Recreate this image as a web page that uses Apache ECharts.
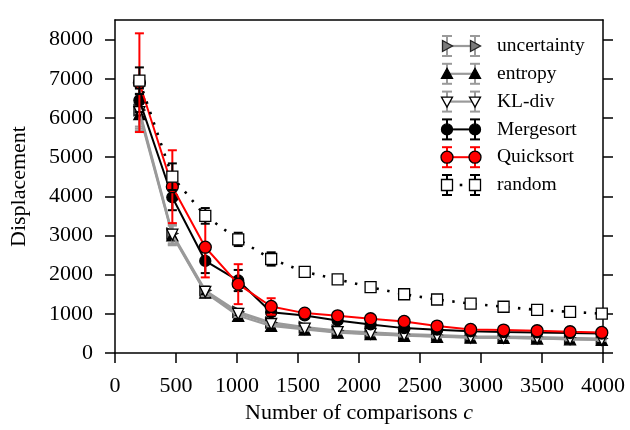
<!DOCTYPE html>
<html>
<head>
<meta charset="utf-8">
<script src="https://cdn.jsdelivr.net/npm/echarts@6/dist/echarts.min.js"></script>
<style>
  html, body { margin: 0; padding: 0; background: #fff; }
  #chart { width: 630px; height: 430px; }
</style>
</head>
<body>
<div id="chart"></div>
<script>
// x values (number of comparisons c)
const comparisons = [200, 470, 740, 1010, 1280, 1555, 1825, 2095, 2370, 2640, 2915, 3185, 3460, 3730, 3990];

// mean displacement per method
const uncertainty = [6200, 3050, 1600, 1050, 780, 660, 570, 525, 480, 455, 425, 420, 405, 385, 370];
const entropy     = [6100, 3000, 1540, 950, 690, 600, 520, 480, 440, 415, 390, 385, 370, 350, 335];
const klDiv       = [6150, 3020, 1560, 1000, 740, 620, 535, 490, 450, 425, 395, 390, 375, 355, 340];
const mergesort   = [6450, 3975, 2350, 1850, 1040, 960, 830, 730, 635, 595, 555, 535, 525, 510, 495];
const quicksort   = [6900, 4245, 2700, 1757, 1188, 1018, 950, 874, 806, 688, 602, 586, 568, 543, 525];
const random      = [6950, 4500, 3500, 2900, 2400, 2070, 1880, 1680, 1500, 1365, 1260, 1180, 1100, 1050, 1005];

// error bar half-heights
const uncertaintyErr = [420, 250, 110, 80, 60, 50, 40, 40, 30, 30, 30, 30, 30, 30, 30];
const entropyErr     = [420, 250, 110, 80, 60, 50, 40, 40, 30, 30, 30, 30, 30, 30, 30];
const klDivErr       = [420, 250, 110, 80, 60, 50, 40, 40, 30, 30, 30, 30, 30, 30, 30];
const mergesortErr   = [300, 330, 310, 270, 90, 60, 50, 40, 40, 30, 30, 30, 30, 30, 30];
const quicksortErr   = [1260, 930, 770, 510, 210, 80, 60, 50, 50, 40, 40, 40, 40, 30, 30];
const randomErr      = [340, 340, 200, 170, 170, 90, 70, 60, 50, 50, 40, 40, 40, 40, 30];

// tick labels
const xTicks = [0, 500, 1000, 1500, 2000, 2500, 3000, 3500, 4000];
const yTicks = [0, 1000, 2000, 3000, 4000, 5000, 6000, 7000, 8000];

const FONT = 'Liberation Serif';

//样式定义
const defs = [
  { name: 'uncertainty', data: uncertainty, err: uncertaintyErr, color: '#9a9a9a', width: 2.2, dash: 'solid',
    symbol: 'triangle', rotate: -90, shape: 'right', fill: '#7a7a7a', border: '#222', size: 11 },
  { name: 'entropy', data: entropy, err: entropyErr, color: '#9a9a9a', width: 2.2, dash: 'solid',
    symbol: 'triangle', rotate: 0, shape: 'up', fill: '#000', border: '#000', size: 11 },
  { name: 'KL-div', data: klDiv, err: klDivErr, color: '#9a9a9a', width: 2.2, dash: 'solid',
    symbol: 'triangle', rotate: 180, shape: 'down', fill: '#fff', border: '#000', size: 11 },
  { name: 'Mergesort', data: mergesort, err: mergesortErr, color: '#000', width: 2, dash: 'solid',
    symbol: 'circle', rotate: 0, shape: 'circle', fill: '#000', border: '#000', size: 11 },
  { name: 'Quicksort', data: quicksort, err: quicksortErr, color: '#ff0000', width: 2, dash: 'solid',
    symbol: 'circle', rotate: 0, shape: 'circle', fill: '#ff0000', border: '#000', size: 12 },
  { name: 'random', data: random, err: randomErr, color: '#000', width: 2.6, dash: [2.4, 8.6],
    symbol: 'rect', rotate: 0, shape: 'rect', fill: '#fff', border: '#000', size: 11 }
];

function errorBarItem(params, api) {
  const x = api.value(0), y = api.value(1), e = api.value(2);
  const top = api.coord([x, y + e]);
  const bot = api.coord([x, y - e]);
  const color = api.visual('color');
  const hw = 4.5;
  const st = { stroke: color, lineWidth: 2 };
  return {
    type: 'group',
    children: [
      { type: 'line', shape: { x1: top[0], y1: top[1], x2: bot[0], y2: bot[1] }, style: st },
      { type: 'line', shape: { x1: top[0] - hw, y1: top[1], x2: top[0] + hw, y2: top[1] }, style: st },
      { type: 'line', shape: { x1: bot[0] - hw, y1: bot[1], x2: bot[0] + hw, y2: bot[1] }, style: st }
    ]
  };
}

function markerShape(d, cx, cy) {
  const s = d.size / 2;
  const style = { fill: d.fill, stroke: d.border, lineWidth: 1.3 };
  if (d.shape === 'circle') return { type: 'circle', shape: { cx, cy, r: s }, style };
  if (d.shape === 'rect') return { type: 'rect', shape: { x: cx - s, y: cy - s, width: 2 * s, height: 2 * s }, style };
  let pts;
  if (d.shape === 'right') pts = [[cx - s + 1, cy - s], [cx + s, cy], [cx - s + 1, cy + s]];
  else if (d.shape === 'up') pts = [[cx - s, cy + s - 1], [cx, cy - s], [cx + s, cy + s - 1]];
  else pts = [[cx - s, cy - s + 1], [cx, cy + s], [cx + s, cy - s + 1]];
  return { type: 'polygon', shape: { points: pts }, style };
}

// 图例用graphic画（两端带误差棒和标记）
function buildLegend() {
  const items = [];
  const x1 = 447, x2 = 475, y0 = 46, step = 27.8, cap = 10, hw = 5;
  defs.forEach((d, i) => {
    const y = y0 + i * step;
    const ls = { stroke: d.color, lineWidth: 2 };
    const children = [];
    [x1, x2].forEach(x => {
      children.push({ type: 'line', shape: { x1: x, y1: y - cap, x2: x, y2: y + cap }, style: ls });
      children.push({ type: 'line', shape: { x1: x - hw, y1: y - cap, x2: x + hw, y2: y - cap }, style: ls });
      children.push({ type: 'line', shape: { x1: x - hw, y1: y + cap, x2: x + hw, y2: y + cap }, style: ls });
    });
    if (d.dash === 'solid') {
      children.push({ type: 'line', shape: { x1: x1, y1: y, x2: x2, y2: y }, style: { stroke: d.color, lineWidth: d.width } });
    } else {
      children.push({ type: 'rect', shape: { x: (x1 + x2) / 2 - 1.3, y: y - 1.3, width: 2.6, height: 2.6 }, style: { fill: '#000' } });
    }
    children.push(markerShape(d, x1, y));
    children.push(markerShape(d, x2, y));
    children.push({
      type: 'text', x: 497, y: y,
      style: { text: d.name, font: '19.5px "' + FONT + '"', fill: '#000', textVerticalAlign: 'middle', textAlign: 'left' }
    });
    items.push({ type: 'group', z: 100, children });
  });
  return items;
}

const series = [];
defs.forEach((d, i) => {
  series.push({
    type: 'custom',
    name: d.name + ' err',
    renderItem: errorBarItem,
    itemStyle: { color: d.color },
    data: comparisons.map((x, k) => [x, d.data[k], d.err[k]]),
    z: 2 + i * 2,
    silent: true,
    clip: false
  });
  series.push({
    type: 'line',
    name: d.name,
    data: comparisons.map((x, k) => [x, d.data[k]]),
    symbol: d.symbol,
    symbolSize: d.size,
    symbolRotate: d.rotate,
    showAllSymbol: true,
    lineStyle: { color: d.color, width: d.width, type: d.dash, cap: 'butt' },
    itemStyle: { color: d.fill, borderColor: d.border, borderWidth: 1.3 },
    z: 3 + i * 2,
    animation: false
  });
});

const axisLineStyle = { color: '#000', width: 1.5 };
const plain = v => String(v);

const option = {
  animation: false,
  grid: { left: 114, right: 27, top: 20, bottom: 77 },
  xAxis: [{
    type: 'value', min: 0, max: 4000, interval: 500,
    name: 'Number of comparisons {i|c}',
    nameLocation: 'middle', nameGap: 48,
    nameTextStyle: { fontFamily: FONT, fontSize: 22, color: '#000',
      rich: { i: { fontFamily: FONT, fontSize: 22, fontStyle: 'italic', color: '#000' } } },
    axisLine: { onZero: false, lineStyle: axisLineStyle },
    axisTick: { inside: false, length: 10, lineStyle: axisLineStyle, customValues: xTicks },
    axisLabel: { margin: 22, fontFamily: FONT, fontSize: 22, color: '#000', customValues: xTicks, formatter: plain },
    splitLine: { show: false }
  }, {
    type: 'value', position: 'top', min: 0, max: 4000,
    axisLine: { show: true, onZero: false, lineStyle: axisLineStyle },
    axisTick: { show: false }, axisLabel: { show: false }, splitLine: { show: false }
  }],
  yAxis: [{
    type: 'value', min: 0, max: 8500, interval: 1000,
    name: 'Displacement',
    nameLocation: 'middle', nameGap: 85, nameRotate: 90,
    nameTextStyle: { fontFamily: FONT, fontSize: 22, color: '#000' },
    axisLine: { show: true, onZero: false, lineStyle: axisLineStyle },
    axisTick: { show: true, inside: false, length: 10, lineStyle: axisLineStyle, customValues: yTicks },
    axisLabel: { margin: 22, fontFamily: FONT, fontSize: 22, color: '#000', customValues: yTicks, formatter: plain },
    splitLine: { show: false }
  }, {
    type: 'value', position: 'right', min: 0, max: 8500, interval: 1000,
    axisLine: { show: true, onZero: false, lineStyle: axisLineStyle },
    axisTick: { show: true, inside: false, length: 10, lineStyle: axisLineStyle, customValues: yTicks },
    axisLabel: { show: false }, splitLine: { show: false }
  }],
  graphic: buildLegend(),
  series: series
};

const myChart = echarts.init(document.getElementById('chart'), null, { renderer: 'canvas' });
myChart.setOption(option);
window.addEventListener('resize', function() {
  myChart.resize();
});
</script>
</body>
</html>
